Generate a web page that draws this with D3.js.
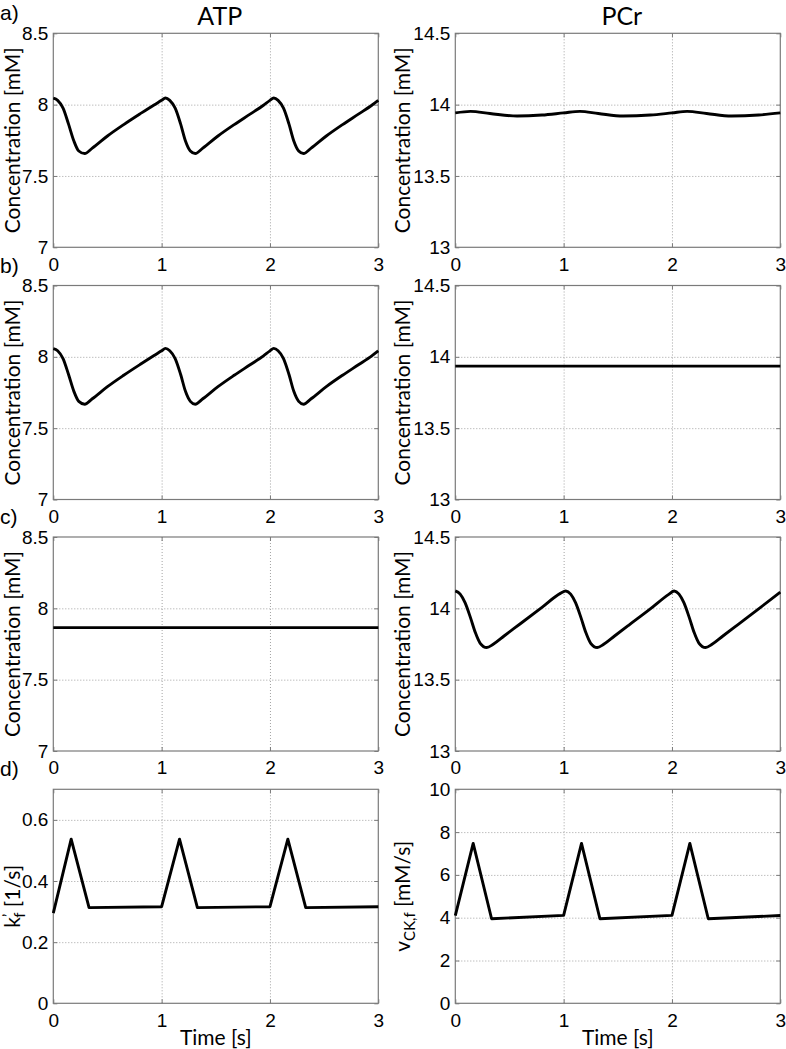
<!DOCTYPE html>
<html>
<head>
<meta charset="utf-8">
<script src="https://cdn.jsdelivr.net/npm/d3@7"></script>
<style>
  body { margin: 0; background: #fff; }
  .tick text { font-family: "Liberation Sans", Arial, sans-serif; font-size: 19px; fill: #000; }
  .lbl { font-family: Lato, "Open Sans", sans-serif; fill: #000; }
</style>
</head>
<body>
<script>
// axis ticks
var timeTicks = [0, 1, 2, 3];
var atpTicks = [7, 7.5, 8, 8.5];
var pcrTicks = [13, 13.5, 14, 14.5];
var kfTicks = [0, 0.2, 0.4, 0.6];
var vckTicks = [0, 2, 4, 6, 8, 10];

// a) ATP
var atpA_t = [0, 0.04, 0.09, 0.14, 0.19, 0.235, 0.29, 0.36, 0.5, 0.65, 0.8, 0.93, 1.0, 1.035,
  1.075, 1.125, 1.175, 1.22, 1.265, 1.31, 1.38, 1.52, 1.67, 1.82, 1.94, 2.0, 2.035,
  2.075, 2.125, 2.175, 2.22, 2.265, 2.31, 2.38, 2.52, 2.67, 2.82, 2.94, 3.0];
var atpA_v = [8.045, 8.03, 7.975, 7.865, 7.745, 7.675, 7.657, 7.695, 7.78, 7.86, 7.935, 7.998, 8.03, 8.047,
  8.03, 7.975, 7.865, 7.745, 7.675, 7.657, 7.695, 7.78, 7.86, 7.935, 7.996, 8.03, 8.047,
  8.03, 7.975, 7.865, 7.745, 7.675, 7.657, 7.695, 7.78, 7.86, 7.935, 7.996, 8.03];
// a) PCr
var pcrA_t = [0, 0.14, 0.32, 0.57, 0.8, 1.0, 1.15, 1.32, 1.55, 1.8, 2.0, 2.14, 2.32, 2.55, 2.8, 3.0];
var pcrA_v = [13.942, 13.953, 13.938, 13.92, 13.927, 13.942, 13.953, 13.938, 13.92, 13.927,
  13.942, 13.953, 13.938, 13.92, 13.927, 13.942];

// b) ATP
var atpB_t = atpA_t;
var atpB_v = [8.058, 8.043, 7.988, 7.878, 7.758, 7.688, 7.668, 7.706, 7.791, 7.871, 7.946, 8.009, 8.042, 8.059,
  8.043, 7.988, 7.878, 7.758, 7.688, 7.668, 7.706, 7.791, 7.871, 7.946, 8.007, 8.042, 8.059,
  8.043, 7.988, 7.878, 7.758, 7.688, 7.668, 7.706, 7.791, 7.871, 7.946, 8.007, 8.042];
// b) PCr
var pcrB_t = [0, 3];
var pcrB_v = [13.935, 13.935];

// c) ATP
var atpC_t = [0, 3];
var atpC_v = [7.865, 7.865];
// c) PCr
var pcrC_t = [0, 0.045, 0.09, 0.14, 0.185, 0.23, 0.29, 0.35, 0.45, 0.6, 0.8, 0.97, 1.02,
  1.065, 1.11, 1.16, 1.205, 1.25, 1.31, 1.37, 1.47, 1.6, 1.8, 1.97, 2.02,
  2.065, 2.11, 2.16, 2.205, 2.25, 2.31, 2.37, 2.47, 2.6, 2.8, 3.0];
var pcrC_v = [14.122, 14.10, 14.04, 13.935, 13.83, 13.755, 13.725, 13.748, 13.806, 13.892, 14.007, 14.105, 14.122,
  14.10, 14.04, 13.935, 13.83, 13.755, 13.725, 13.748, 13.806, 13.881, 13.996, 14.098, 14.122,
  14.10, 14.04, 13.935, 13.83, 13.755, 13.725, 13.748, 13.806, 13.881, 13.996, 14.114];

// d) k_f' and v_CK,f
var kf_t = [0, 0.165, 0.33, 1.0, 1.165, 1.33, 2.0, 2.165, 2.33, 3.0];
var kf_v = [0.295, 0.537, 0.313, 0.316, 0.537, 0.313, 0.316, 0.537, 0.313, 0.316];
var vck_t = [0, 0.165, 0.335, 1.0, 1.165, 1.335, 2.0, 2.165, 2.335, 3.0];
var vck_v = [4.1, 7.47, 3.95, 4.11, 7.47, 3.95, 4.11, 7.47, 3.95, 4.1];

// layout
var colX = [53.3, 455.3];
var rowY = [33.3, 285.5, 537, 789.3];
var pw = 325, ph = 214;

var svg = d3.select('body').append('svg')
  .attr('width', 786)
  .attr('height', 1049);

var panels = [
  {r: 0, c: 0, t: atpA_t, v: atpA_v, dom: [7, 8.5], ticks: atpTicks, smooth: true},
  {r: 0, c: 1, t: pcrA_t, v: pcrA_v, dom: [13, 14.5], ticks: pcrTicks, smooth: true},
  {r: 1, c: 0, t: atpB_t, v: atpB_v, dom: [7, 8.5], ticks: atpTicks, smooth: true},
  {r: 1, c: 1, t: pcrB_t, v: pcrB_v, dom: [13, 14.5], ticks: pcrTicks},
  {r: 2, c: 0, t: atpC_t, v: atpC_v, dom: [7, 8.5], ticks: atpTicks},
  {r: 2, c: 1, t: pcrC_t, v: pcrC_v, dom: [13, 14.5], ticks: pcrTicks, smooth: true},
  {r: 3, c: 0, t: kf_t, v: kf_v, dom: [0, 0.7], ticks: kfTicks, ylab: 'kf'},
  {r: 3, c: 1, t: vck_t, v: vck_v, dom: [0, 10], ticks: vckTicks, ylab: 'vck'}
];

panels.forEach(function(p) {
  var x0 = colX[p.c], y0 = rowY[p.r];
  var g = svg.append('g').attr('transform', 'translate(' + x0 + ',' + y0 + ')');
  var x = d3.scaleLinear().domain([0, 3]).range([0, pw]);
  var y = d3.scaleLinear().domain(p.dom).range([ph, 0]);

  // dotted grid
  g.append('g').attr('class', 'grid')
    .attr('transform', 'translate(0,' + ph + ')')
    .call(d3.axisBottom(x).tickValues([1, 2]).tickSize(-ph).tickFormat(''));
  g.append('g').attr('class', 'grid')
    .call(d3.axisLeft(y).tickValues(p.ticks.filter(function(d) { return d > p.dom[0] && d < p.dom[1]; }))
      .tickSize(-pw).tickFormat(''));
  g.selectAll('.grid .domain').remove();
  g.selectAll('.grid line')
    .attr('stroke', '#999')
    .attr('stroke-width', 0.9)
    .attr('stroke-dasharray', '1,2');

  // axes with inward ticks
  var ax = g.append('g').attr('transform', 'translate(0,' + ph + ')')
    .call(d3.axisBottom(x).tickValues(timeTicks).tickSizeInner(-4).tickSizeOuter(0)
      .tickPadding(10).tickFormat(function(d) { return String(d); }));
  var ay = g.append('g')
    .call(d3.axisLeft(y).tickValues(p.ticks).tickSizeInner(-4).tickSizeOuter(0)
      .tickPadding(5).tickFormat(function(d) { return String(d); }));
  var at = g.append('g')
    .call(d3.axisTop(x).tickValues(timeTicks).tickSizeInner(-4).tickSizeOuter(0).tickFormat(''));
  var ar = g.append('g').attr('transform', 'translate(' + pw + ',0)')
    .call(d3.axisRight(y).tickValues(p.ticks).tickSizeInner(-4).tickSizeOuter(0).tickFormat(''));
  [ax, ay, at, ar].forEach(function(a) {
    a.select('.domain').remove();
    a.selectAll('line').attr('stroke', '#7a7a7a');
  });

  g.append('rect')
    .attr('width', pw).attr('height', ph)
    .attr('fill', 'none')
    .attr('stroke', '#7a7a7a')
    .attr('stroke-width', 1.2);

  var pts = p.t.map(function(t, i) { return [t, p.v[i]]; });
  var line = d3.line()
    .x(function(d) { return x(d[0]); })
    .y(function(d) { return y(d[1]); })
    .curve(p.smooth ? d3.curveMonotoneX : d3.curveLinear);
  g.append('path')
    .datum(pts)
    .attr('d', line)
    .attr('fill', 'none')
    .attr('stroke', '#000')
    .attr('stroke-width', 2.9)
    .attr('stroke-linejoin', 'round');

  // y label
  var lx = p.c === 0 ? 20 : 410;
  var yl = svg.append('text').attr('class', 'lbl')
    .attr('transform', 'translate(' + lx + ',' + (y0 + ph / 2) + ') rotate(-90)')
    .attr('text-anchor', 'middle')
    .style('font-size', '21px');
  if (p.ylab === 'kf') {
    yl.append('tspan').text('k');
    yl.append('tspan').attr('dy', -6).style('font-size', '15px').text('\u2019');
    yl.append('tspan').attr('dx', -4).attr('dy', 11).style('font-size', '15px').text('f');
    yl.append('tspan').attr('dy', -5).text(' [1/s]');
  } else if (p.ylab === 'vck') {
    yl.append('tspan').text('v');
    yl.append('tspan').attr('dy', 5).style('font-size', '15px').text('CK,f');
    yl.append('tspan').attr('dy', -5).text(' [mM/s]');
  } else {
    yl.text('Concentration [mM]');
  }
});

// row letters
['a)', 'b)', 'c)', 'd)'].forEach(function(s, i) {
  svg.append('text')
    .attr('x', 0).attr('y', rowY[i] - 13)
    .style('font-family', '"Liberation Sans", Arial, sans-serif')
    .style('font-size', '21px')
    .text(s);
});

// column titles
['ATP', 'PCr'].forEach(function(s, i) {
  svg.append('text').attr('class', 'lbl')
    .attr('x', colX[i] + pw / 2 + 4).attr('y', 25)
    .attr('text-anchor', 'middle')
    .style('font-size', '25px')
    .text(s);
  svg.append('text').attr('class', 'lbl')
    .attr('x', colX[i] + pw / 2).attr('y', 1045)
    .attr('text-anchor', 'middle')
    .style('font-size', '21px')
    .text('Time [s]');
});
</script>
</body>
</html>
